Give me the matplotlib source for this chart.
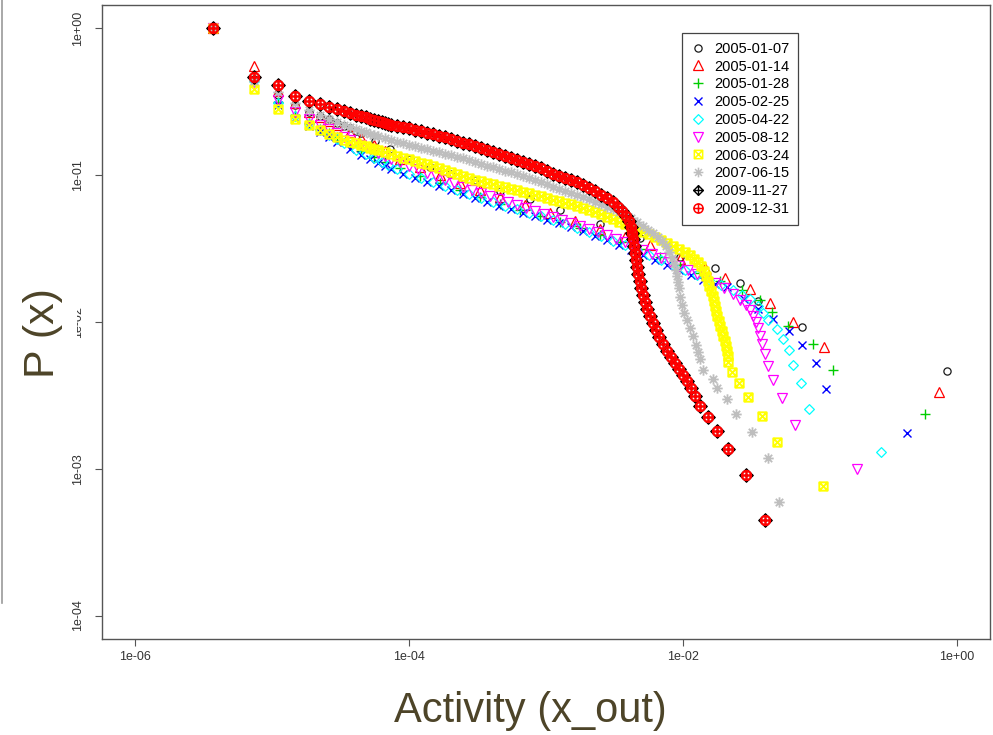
import numpy as np
import matplotlib
matplotlib.use("Agg")
import matplotlib.pyplot as plt
from matplotlib.path import Path
from matplotlib.patches import Rectangle
from matplotlib.lines import Line2D

# Activity distributions per snapshot date, stored as log10(activity) and log10(P(x)).
snapshots = ["2005-01-07", "2005-01-14", "2005-01-28", "2005-02-25", "2005-04-22",
             "2005-08-12", "2006-03-24", "2007-06-15", "2009-11-27", "2009-12-31"]

log_x_2005_01_07 = [-5.43, -5.129, -4.953, -4.828, -4.731, -4.652, -4.585, -4.527, -4.476, -4.43, -4.389, -4.351,
                    -4.248, -4.139, -3.993, -3.847, -3.701, -3.518, -3.336, -3.117, -2.898, -2.606, -2.314, -2.022,
                    -1.766, -1.584, -1.450, -1.131, -0.071]
log_p_2005_01_07 = [0, -0.347, -0.456, -0.524, -0.571, -0.599, -0.619, -0.646, -0.667, -0.680, -0.701, -0.714,
                    -0.769, -0.823, -0.891, -0.946, -0.993, -1.034, -1.109, -1.159, -1.238, -1.333, -1.431, -1.556,
                    -1.635, -1.733, -1.857, -2.034, -2.331]

log_x_2005_01_14 = [-5.43, -5.129, -4.953, -4.828, -4.731, -4.652, -4.585, -4.527, -4.43, -4.351, -4.254, -4.175,
                    -4.066, -3.920, -3.774, -3.628, -3.482, -3.336, -3.153, -2.971, -2.788, -2.606, -2.423, -2.241,
                    -2.022, -1.839, -1.693, -1.511, -1.365, -1.199, -0.969, -0.134]
log_p_2005_01_14 = [0, -0.256, -0.429, -0.510, -0.571, -0.605, -0.633, -0.660, -0.707, -0.748, -0.796, -0.837,
                    -0.891, -0.946, -1.0, -1.054, -1.102, -1.150, -1.204, -1.259, -1.313, -1.367, -1.422, -1.474,
                    -1.571, -1.629, -1.697, -1.776, -1.871, -1.998, -2.172, -2.474]

log_x_2005_01_28 = [-5.43, -5.129, -4.953, -4.828, -4.731, -4.652, -4.585, -4.527, -4.43, -4.351, -4.254, -4.175,
                    -4.066, -3.920, -3.774, -3.628, -3.482, -3.336, -3.190, -3.044, -2.898, -2.752, -2.606, -2.460,
                    -2.314, -2.168, -2.022, -1.876, -1.730, -1.569, -1.438, -1.350, -1.234, -1.053, -0.907, -0.231]
log_p_2005_01_28 = [0, -0.361, -0.503, -0.592, -0.646, -0.687, -0.714, -0.741, -0.796, -0.837, -0.878, -0.912,
                    -0.952, -1.007, -1.054, -1.102, -1.150, -1.197, -1.238, -1.279, -1.320, -1.361, -1.408, -1.456,
                    -1.503, -1.558, -1.612, -1.667, -1.724, -1.782, -1.850, -1.929, -2.025, -2.150, -2.324, -2.626]

log_x_2005_02_25 = [-5.43, -5.129, -4.953, -4.828, -4.731, -4.652, -4.585, -4.527, -4.43, -4.351, -4.284, -4.226,
                    -4.175, -4.129,
                    -4.044, -3.956, -3.869, -3.781, -3.693, -3.606, -3.518, -3.431, -3.343, -3.255, -3.168, -3.080,
                    -2.993, -2.905, -2.818, -2.730, -2.642, -2.555, -2.467, -2.380, -2.292, -2.204, -2.117, -2.029,
                    -1.942, -1.854, -1.766,
                    -1.679, -1.555, -1.453, -1.341, -1.224, -1.131, -1.027, -0.958, -0.365]
log_p_2005_02_25 = [0, -0.374, -0.524, -0.612, -0.667, -0.707, -0.741, -0.776, -0.823, -0.861, -0.891, -0.918,
                    -0.939, -0.959,
                    -0.990, -1.020, -1.048, -1.075, -1.102, -1.129, -1.156, -1.184, -1.207, -1.231, -1.255, -1.279,
                    -1.303, -1.327, -1.354, -1.381, -1.412, -1.442, -1.473, -1.510, -1.544, -1.578, -1.612, -1.646,
                    -1.680, -1.714, -1.741,
                    -1.762, -1.844, -1.912, -1.980, -2.059, -2.154, -2.281, -2.456, -2.757]

log_x_2005_04_22 = [-5.43, -5.129, -4.953, -4.828, -4.731, -4.652, -4.585, -4.527, -4.476, -4.389, -4.316, -4.254,
                    -4.2, -4.151,
                    -4.088, -4.0, -3.912, -3.825, -3.737, -3.650, -3.562, -3.474, -3.387, -3.299, -3.212, -3.124,
                    -3.036, -2.949, -2.861, -2.774, -2.686, -2.599, -2.511, -2.423, -2.336, -2.248, -2.161, -2.073,
                    -1.985, -1.898, -1.810, -1.723, -1.635,
                    -1.569, -1.511, -1.453, -1.416, -1.380, -1.316, -1.272, -1.224, -1.195, -1.139, -1.080, -0.553]
log_p_2005_04_22 = [0, -0.361, -0.510, -0.599, -0.653, -0.694, -0.728, -0.755, -0.782, -0.827, -0.857, -0.884,
                    -0.912, -0.932,
                    -0.959, -0.990, -1.020, -1.048, -1.075, -1.102, -1.129, -1.156, -1.184, -1.207, -1.231, -1.255,
                    -1.279, -1.303, -1.330, -1.357, -1.384, -1.415, -1.446, -1.476, -1.510, -1.544, -1.578, -1.612,
                    -1.646, -1.680, -1.714, -1.748, -1.782,
                    -1.813, -1.844, -1.891, -1.938, -1.989, -2.048, -2.116, -2.190, -2.293, -2.415, -2.592, -2.889]

log_x_2005_08_12 = [-5.43, -5.129, -4.953, -4.828, -4.731, -4.652, -4.585, -4.527, -4.476, -4.43, -4.351, -4.284,
                    -4.226, -4.175, -4.129,
                    -4.066, -4.0, -3.934, -3.869, -3.803, -3.737, -3.672, -3.606, -3.540, -3.474, -3.409, -3.343,
                    -3.277, -3.212, -3.146, -3.080, -3.015, -2.949, -2.883, -2.818, -2.752, -2.686, -2.620, -2.555,
                    -2.489, -2.423, -2.358, -2.292, -2.226, -2.161, -2.095, -2.029, -1.964, -1.898, -1.832, -1.766,
                    -1.701, -1.635,
                    -1.584, -1.540, -1.511, -1.489, -1.471, -1.456, -1.442, -1.423, -1.401, -1.377, -1.341, -1.277,
                    -1.182, -0.730]
log_p_2005_08_12 = [0, -0.367, -0.490, -0.571, -0.619, -0.660, -0.687, -0.714, -0.738, -0.759, -0.793, -0.820,
                    -0.847, -0.871, -0.891,
                    -0.912, -0.935, -0.959, -0.983, -1.007, -1.031, -1.054, -1.078, -1.102, -1.122, -1.143, -1.163,
                    -1.184, -1.204, -1.224, -1.245, -1.265, -1.286, -1.306, -1.327, -1.347, -1.367, -1.388, -1.408,
                    -1.432, -1.456, -1.483, -1.510, -1.537, -1.565, -1.592, -1.619, -1.646, -1.673, -1.701, -1.735,
                    -1.769, -1.810,
                    -1.847, -1.884, -1.918, -1.957, -1.998, -2.044, -2.095, -2.153, -2.220, -2.299, -2.395, -2.519,
                    -2.699, -3.0]

log_x_2006_03_24 = [-5.43, -5.129, -4.953, -4.828, -4.731, -4.652, -4.585, -4.527, -4.476, -4.43, -4.389, -4.351,
                    -4.316, -4.284, -4.254, -4.226, -4.175, -4.129,
                    -4.088, -4.044, -4.0, -3.956, -3.912, -3.869, -3.825, -3.781, -3.737, -3.693, -3.650, -3.606,
                    -3.562, -3.518, -3.474, -3.431, -3.387, -3.343, -3.299, -3.255, -3.212, -3.168, -3.124, -3.080,
                    -3.036, -2.993, -2.949, -2.905, -2.861, -2.818, -2.774, -2.730, -2.686, -2.642, -2.599, -2.555,
                    -2.511, -2.467, -2.423, -2.380, -2.336, -2.292, -2.248, -2.204, -2.161, -2.117, -2.073, -2.029,
                    -1.985,
                    -1.949, -1.920, -1.891, -1.869, -1.847, -1.832, -1.818, -1.807, -1.796, -1.785, -1.774, -1.766,
                    -1.759, -1.752, -1.741, -1.730, -1.719, -1.708, -1.697, -1.686, -1.679, -1.672, -1.669,
                    -1.640, -1.595, -1.529, -1.423, -1.316, -0.980]
log_p_2006_03_24 = [0, -0.415, -0.551, -0.619, -0.660, -0.694, -0.721, -0.741, -0.759, -0.772, -0.782, -0.793,
                    -0.803, -0.813, -0.820, -0.830, -0.844, -0.857,
                    -0.871, -0.881, -0.891, -0.905, -0.915, -0.925, -0.939, -0.952, -0.966, -0.980, -0.993, -1.007,
                    -1.020, -1.031, -1.041, -1.051, -1.061, -1.071, -1.082, -1.092, -1.102, -1.112, -1.122, -1.133,
                    -1.143, -1.156, -1.167, -1.177, -1.187, -1.197, -1.207, -1.221, -1.235, -1.248, -1.265, -1.282,
                    -1.299, -1.316, -1.333, -1.350, -1.367, -1.384, -1.401, -1.422, -1.442, -1.463, -1.483, -1.503,
                    -1.524,
                    -1.544, -1.568, -1.592, -1.619, -1.653, -1.687, -1.721, -1.755, -1.789, -1.823, -1.857, -1.891,
                    -1.925, -1.959, -1.993, -2.027, -2.061, -2.095, -2.129, -2.163, -2.197, -2.231, -2.274,
                    -2.340, -2.415, -2.514, -2.639, -2.818, -3.116]

log_x_2007_06_15 = [-5.43, -5.129, -4.953, -4.828, -4.731, -4.652, -4.585, -4.527, -4.476, -4.43, -4.389, -4.351,
                    -4.316, -4.284, -4.254, -4.226, -4.175, -4.129,
                    -4.088, -4.044, -4.0, -3.956, -3.912, -3.869, -3.825, -3.781, -3.737, -3.693, -3.650, -3.606,
                    -3.562, -3.518, -3.474, -3.431, -3.387, -3.343, -3.299, -3.255, -3.212, -3.168, -3.124, -3.080,
                    -3.036, -2.993, -2.949, -2.905, -2.861, -2.818, -2.774, -2.730, -2.686, -2.642, -2.599, -2.555,
                    -2.511,
                    -2.467, -2.423, -2.380, -2.336, -2.292, -2.255, -2.219, -2.182, -2.153, -2.124, -2.102, -2.080,
                    -2.066, -2.055, -2.047, -2.040, -2.033, -2.022, -2.007, -1.993, -1.971, -1.949, -1.927, -1.905,
                    -1.891, -1.876, -1.854, -1.781, -1.755, -1.681, -1.613, -1.499, -1.377, -1.303]
log_p_2007_06_15 = [0, -0.361, -0.435, -0.510, -0.558, -0.592, -0.619, -0.639, -0.660, -0.673, -0.687, -0.697,
                    -0.707, -0.718, -0.728, -0.735, -0.748, -0.762,
                    -0.772, -0.782, -0.793, -0.803, -0.813, -0.823, -0.833, -0.844, -0.854, -0.864, -0.874, -0.884,
                    -0.898, -0.912, -0.925, -0.935, -0.946, -0.959, -0.969, -0.980, -0.993, -1.007, -1.020, -1.034,
                    -1.048, -1.061, -1.078, -1.095, -1.109, -1.122, -1.136, -1.150, -1.163, -1.180, -1.197, -1.214,
                    -1.231,
                    -1.252, -1.272, -1.293, -1.320, -1.347, -1.371, -1.395, -1.422, -1.449, -1.483, -1.524, -1.565,
                    -1.605, -1.646, -1.687, -1.728, -1.769, -1.830, -1.884, -1.939, -1.986, -2.041, -2.095, -2.156,
                    -2.204, -2.252, -2.327, -2.388, -2.451, -2.527, -2.626, -2.752, -2.925, -3.227]

# the two late-2009 snapshots coincide
log_x_2009 = [-5.43, -5.129, -4.953, -4.828, -4.731, -4.652, -4.585, -4.527, -4.476, -4.43, -4.389, -4.351,
              -4.316, -4.284, -4.254, -4.226, -4.2, -4.175, -4.151, -4.13,
              -4.088, -4.044, -4.0, -3.956, -3.912, -3.869, -3.825, -3.781, -3.737, -3.693, -3.650, -3.606,
              -3.562, -3.518, -3.474, -3.431, -3.387, -3.343, -3.299, -3.255, -3.212, -3.168, -3.124, -3.080,
              -3.036, -2.993, -2.949, -2.905, -2.861, -2.818, -2.774, -2.730, -2.686, -2.642, -2.599, -2.555,
              -2.511,
              -2.474, -2.445, -2.416, -2.394, -2.380, -2.372, -2.365, -2.358, -2.350, -2.343, -2.336, -2.328,
              -2.314, -2.307, -2.292, -2.277, -2.263, -2.241, -2.219, -2.197, -2.175, -2.146, -2.117, -2.088,
              -2.058, -2.029, -2.0, -1.971, -1.942, -1.912, -1.876, -1.818, -1.752, -1.672, -1.540, -1.401]
log_p_2009 = [0, -0.333, -0.388, -0.463, -0.497, -0.517, -0.537, -0.551, -0.565, -0.578, -0.588, -0.599,
              -0.605, -0.616, -0.622, -0.629, -0.636, -0.643, -0.650, -0.656,
              -0.663, -0.673, -0.680, -0.690, -0.701, -0.711, -0.721, -0.731, -0.741, -0.755, -0.765, -0.779,
              -0.789, -0.803, -0.816, -0.830, -0.844, -0.857, -0.871, -0.884, -0.898, -0.912, -0.925, -0.939,
              -0.952, -0.973, -0.990, -1.003, -1.017, -1.031, -1.048, -1.065, -1.085, -1.109, -1.133, -1.156,
              -1.184,
              -1.218, -1.245, -1.279, -1.313, -1.354, -1.395, -1.435, -1.483, -1.531, -1.578, -1.626, -1.673,
              -1.721, -1.769, -1.816, -1.864, -1.912, -1.959, -2.007, -2.054, -2.102, -2.150, -2.197, -2.238,
              -2.279, -2.320, -2.361, -2.401, -2.449, -2.503, -2.571, -2.646, -2.741, -2.864, -3.041, -3.347]

x_ticks = [1e-6, 1e-4, 1e-2, 1e0]
x_tick_labels = ["1e-06", "1e-04", "1e-02", "1e+00"]
y_ticks = [1e0, 1e-1, 1e-2, 1e-3, 1e-4]
y_tick_labels = ["1e+00", "1e-01", "1e-02", "1e-03", "1e-04"]


# ---- compound point symbols (R pch 7, 8, 9, 10) ----
def _seg(a, b):
    return [a, b], [Path.MOVETO, Path.LINETO]


def _compound(*parts):
    verts, codes = [], []
    for v, c in parts:
        verts += list(v)
        codes += list(c)
    return Path(verts, codes)


def _closed(pts):
    return list(pts) + [pts[0]], [Path.MOVETO] + [Path.LINETO] * (len(pts) - 1) + [Path.CLOSEPOLY]


_circ = Path.unit_circle()
circle_part = (_circ.vertices.tolist(), _circ.codes.tolist())
plus_parts = [_seg((-1, 0), (1, 0)), _seg((0, -1), (0, 1))]
d = 0.7071
diag_parts = [_seg((-d, -d), (d, d)), _seg((-d, d), (d, -d))]

square_x = _compound(_closed([(-1, -1), (1, -1), (1, 1), (-1, 1)]),
                     _seg((-1, -1), (1, 1)), _seg((-1, 1), (1, -1)))
asterisk = _compound(*plus_parts, *diag_parts)
diamond = _compound(_closed([(0, -1), (1, 0), (0, 1), (-1, 0)]))
diamond_plus = _compound(_closed([(0, -1), (1, 0), (0, 1), (-1, 0)]), *plus_parts)
circle_plus = _compound(circle_part, *plus_parts)

# (x, y, marker, colour, size, edge width)
series = [
    (log_x_2005_01_07, log_p_2005_01_07, "o", "#1a1a1a", 5.2, 0.9),
    (log_x_2005_01_14, log_p_2005_01_14, "^", "#ff0000", 6.5, 0.9),
    (log_x_2005_01_28, log_p_2005_01_28, "+", "#00cd00", 6.5, 1.0),
    (log_x_2005_02_25, log_p_2005_02_25, "x", "#0000ff", 5.2, 1.0),
    (log_x_2005_04_22, log_p_2005_04_22, diamond, "#00ffff", 7.0, 0.9),
    (log_x_2005_08_12, log_p_2005_08_12, "v", "#ff00ff", 6.5, 0.9),
    (log_x_2006_03_24, log_p_2006_03_24, square_x, "#ffff00", 6.0, 1.4),
    (log_x_2007_06_15, log_p_2007_06_15, asterisk, "#bebebe", 7.5, 1.3),
    (log_x_2009, log_p_2009, diamond_plus, "#000000", 9.5, 1.0),
    (log_x_2009, log_p_2009, circle_plus, "#ff0000", 6.6, 1.6),
]

W, H = 993, 735
fig = plt.figure(figsize=(W / 100, H / 100), dpi=100)
fig.patch.set_facecolor("white")
ax = fig.add_axes([102 / W, 1 - 639 / H, 888 / W, 634 / H])

for z, ((lx, lp, mk, col, ms, mew), name) in enumerate(zip(series, snapshots)):
    ax.plot(10 ** np.asarray(lx), 10 ** np.asarray(lp), linestyle="none", marker=mk,
            markersize=ms, markerfacecolor="none", markeredgecolor=col,
            markeredgewidth=mew, label=name, zorder=3 + z)

ax.set_xscale("log")
ax.set_yscale("log")
ax.set_xlim(10 ** -6.24, 10 ** 0.24)
ax.set_ylim(10 ** -4.16, 10 ** 0.16)
ax.minorticks_off()

tick_font = dict(family="Liberation Sans", size=9, color="#333333")
ax.set_xticks(x_ticks)
ax.set_xticklabels(x_tick_labels, **tick_font)
ax.set_yticks(y_ticks)
ax.set_yticklabels(y_tick_labels, rotation=90, va="center", **tick_font)
ax.tick_params(axis="both", direction="out", length=5, width=0.8, color="#555555")
ax.tick_params(axis="x", pad=4)
ax.tick_params(axis="y", pad=8)
for s in ax.spines.values():
    s.set_color("#555555")
    s.set_linewidth(1.0)

leg = ax.legend(loc="upper left", bbox_to_anchor=(682 / W, 1 - 33 / H),
                bbox_transform=fig.transFigure, borderaxespad=0, frameon=True,
                fancybox=False, edgecolor="#444444", framealpha=1,
                prop=dict(family="Liberation Sans", size=10.5),
                handlelength=1.0, handletextpad=0.6, labelspacing=0.26,
                borderpad=0.6, numpoints=1)
leg.get_frame().set_linewidth(0.9)
leg.set_zorder(20)
for h in leg.legend_handles:
    h.set_markersize(min(h.get_markersize(), 7.0))
    h.set_markeredgewidth(min(h.get_markeredgewidth(), 1.1))

label_color = "#4d4428"
fig.text(530 / W, 1 - 722 / H, "Activity (x_out)", ha="center", va="baseline",
         family="Liberation Sans", size=30, color=label_color)

# white panel behind the y-axis title
fig.add_artist(Rectangle((6 / W, 1 - 395 / H), 71 / W, 120 / H, transform=fig.transFigure,
                         facecolor="white", edgecolor="none", zorder=5))
fig.text(43 / W, 1 - 333 / H, "P (x)", ha="center", va="center", rotation=90,
         family="Liberation Sans", size=31, color=label_color, zorder=6)

fig.add_artist(Line2D([1.5 / W, 1.5 / W], [1, 1 - 603 / H], transform=fig.transFigure,
                      color="#9a9a9a", linewidth=1.2, zorder=5))

fig.savefig("out.png", dpi=100)
